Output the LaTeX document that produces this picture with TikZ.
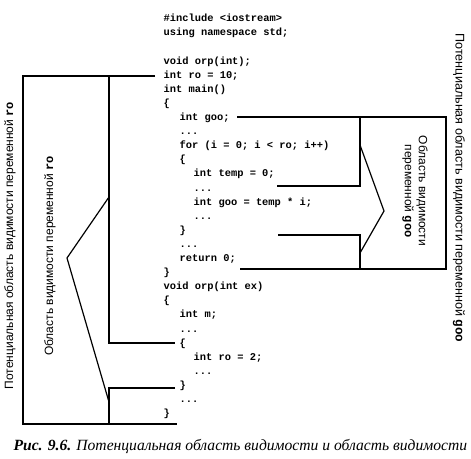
\documentclass[tikz,border=0pt]{standalone}
\usepackage{fontspec}
\setmainfont{Liberation Serif}
\setsansfont{Liberation Sans}
\setmonofont{Liberation Mono}
\begin{document}
\begin{tikzpicture}[x=1pt,y=-1pt,line width=1.2pt,line join=miter,
  code/.style={anchor=base west,inner sep=0,font=\fontsize{10.4}{12}\selectfont\ttfamily\bfseries},
  lbl/.style={inner sep=0,font=\fontsize{12}{14}\selectfont\sffamily},
  vr/.style={font=\ttfamily\bfseries}]
\useasboundingbox (0,0) rectangle (471,458);
% code lines: baseline = 21.8 + 14.1*i
\node[code] (c0)  at (163, 21.8) {\#include <iostream>};
\node[code] (c1)  at (163, 35.9) {using namespace std;};
\node[code] (c3)  at (163, 64.1) {void orp(int);};
\node[code] (c4)  at (163, 78.2) {int ro = 10;};
\node[code] (c5)  at (163, 92.3) {int main()};
\node[code] (c6)  at (163,106.4) {\{};
\node[code] (c7)  at (179,120.5) {int goo;};
\node[code] (c8)  at (179,134.6) {...};
\node[code] (c9)  at (179,148.7) {for (i = 0; i < ro; i++)};
\node[code] (c10) at (179,162.8) {\{};
\node[code] (c11) at (193,176.9) {int temp = 0;};
\node[code] (c12) at (193,191.0) {...};
\node[code] (c13) at (193,205.1) {int goo = temp * i;};
\node[code] (c14) at (193,219.2) {...};
\node[code] (c15) at (179,233.3) {\}};
\node[code] (c16) at (179,247.4) {...};
\node[code] (c17) at (179,261.5) {return 0;};
\node[code] (c18) at (163,275.6) {\}};
\node[code] (c19) at (163,289.7) {void orp(int ex)};
\node[code] (c20) at (163,303.8) {\{};
\node[code] (c21) at (179,317.9) {int m;};
\node[code] (c22) at (179,332.0) {...};
\node[code] (c23) at (179,346.1) {\{};
\node[code] (c24) at (193,360.2) {int ro = 2;};
\node[code] (c25) at (193,374.3) {...};
\node[code] (c26) at (179,388.4) {\}};
\node[code] (c27) at (179,402.5) {...};
\node[code] (c28) at (163,416.6) {\}};
% left brackets (variable ro)
\draw (155,76) -- (23,76) -- (23,424) -- (177,424);
\draw (109,76) -- (109,343) -- (175,343);
\draw (175,388) -- (109,388) -- (109,424);
\draw (109,197) -- (67,258) -- (109,402);
% right brackets (variable goo)
\draw (237,117) -- (446,117) -- (446,269) -- (240,269);
\draw (277,186) -- (360,186) -- (360,117);
\draw (278,235) -- (360,235) -- (360,269);
\draw (360,145) -- (384,211) -- (360,253);
% labels
\node[lbl,rotate=90] (pL) at (10,245.5) {Потенциальная область видимости переменной {\ttfamily\bfseries ro}};
\node[lbl,rotate=90] (iL) at (50,256) {Область видимости переменной {\ttfamily\bfseries ro}};
\node[lbl,rotate=-90,font=\fontsize{12.6}{14}\selectfont\sffamily] (pR) at (459,188) {Потенциальная область видимости переменной {\ttfamily\bfseries goo}};
\node[lbl,rotate=-90,align=center] (iR) at (415,191) {Область видимости\\переменной {\ttfamily\bfseries goo}};
% caption
\node[anchor=base west,inner sep=0,font=\fontsize{15.6}{18}\selectfont\itshape] (cap) at (13,450) {\textbf{Рис. 9.6.} Потенциальная область видимости и область видимости};
\end{tikzpicture}
\end{document}
